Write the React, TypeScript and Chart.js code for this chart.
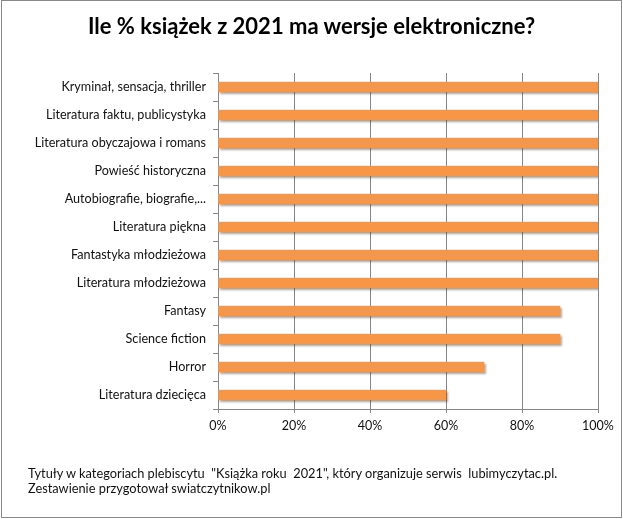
import React, { useEffect, useRef } from "react";
import { Chart, registerables } from "chart.js";

Chart.register(...registerables);

const categories = [
  "Kryminał, sensacja, thriller",
  "Literatura faktu, publicystyka",
  "Literatura obyczajowa i romans",
  "Powieść historyczna",
  "Autobiografie, biografie,...",
  "Literatura piękna",
  "Fantastyka młodzieżowa",
  "Literatura młodzieżowa",
  "Fantasy",
  "Science fiction",
  "Horror",
  "Literatura dziecięca",
];

const values = [100, 100, 100, 100, 100, 100, 100, 100, 90, 90, 70, 60];

const xTicks = [0, 20, 40, 60, 80, 100];

const titleText = "Ile % książek z 2021 ma wersje elektroniczne?";
const footLines = [
  "Tytuły w kategoriach plebiscytu  \"Książka roku  2021\", który organizuje serwis  lubimyczytac.pl.",
  "Zestawienie przygotował swiatczytnikow.pl",
];

const FONT = "Lato, 'Open Sans', sans-serif";

const shadowPlugin = {
  id: "barShadow",
  beforeDatasetDraw(chart: any) {
    const ctx = chart.ctx;
    ctx.save();
    ctx.shadowColor = "rgba(0,0,0,0.35)";
    ctx.shadowBlur = 2;
    ctx.shadowOffsetX = 2;
    ctx.shadowOffsetY = 2;
  },
  afterDatasetDraw(chart: any) {
    chart.ctx.restore();
  },
};

export default function App() {
  const ref = useRef<HTMLCanvasElement | null>(null);

  useEffect(() => {
    if (!ref.current) return;
    const chart = new Chart(ref.current, {
      type: "bar",
      data: {
        labels: categories,
        datasets: [
          {
            data: values,
            backgroundColor: "#F79646",
            borderWidth: 0,
            barThickness: 10,
          },
        ],
      },
      options: {
        indexAxis: "y",
        animation: false,
        responsive: false,
        maintainAspectRatio: false,
        layout: { padding: { top: 73, right: 25, bottom: 80, left: 0 } },
        plugins: {
          legend: { display: false },
          tooltip: { enabled: false },
          title: { display: false },
        },
        scales: {
          x: {
            min: 0,
            max: 100,
            afterBuildTicks: (scale: any) => {
              scale.ticks = xTicks.map((v) => ({ value: v }));
            },
            afterFit: (scale: any) => {
              scale.height = 30;
            },
            border: { display: true, color: "#868686", width: 1 },
            grid: {
              color: "#868686",
              lineWidth: 1,
              tickLength: 4,
              drawOnChartArea: true,
            },
            ticks: {
              color: "#111",
              font: { family: FONT, size: 12.5 },
              padding: 5,
              maxRotation: 0,
              callback: (v: any) => v + "%",
            },
          },
          y: {
            afterFit: (scale: any) => {
              scale.width = 218;
            },
            border: { display: true, color: "#868686", width: 1 },
            grid: {
              display: true,
              drawOnChartArea: false,
              color: "#868686",
              tickLength: 5,
              offset: true,
            },
            ticks: {
              color: "#111",
              font: { family: FONT, size: 12.6 },
              padding: 7,
            },
          },
        },
      },
      plugins: [shadowPlugin],
    } as any);
    return () => chart.destroy();
  }, []);

  return (
    <div
      style={{
        position: "fixed",
        left: 0,
        top: 0,
        width: 623,
        height: 519,
        background: "#fff",
        overflow: "hidden",
      }}
    >
      <canvas ref={ref} width={623} height={519} style={{ position: "absolute", left: 0, top: 0 }} />
      <div
        style={{
          position: "absolute",
          left: 0,
          top: 13,
          width: 623,
          textAlign: "center",
          fontFamily: FONT,
          fontWeight: 700,
          fontSize: 22,
          lineHeight: "26px",
          color: "#000",
        }}
      >
        {titleText}
      </div>
      <div
        style={{
          position: "absolute",
          left: 28,
          top: 466,
          fontFamily: FONT,
          fontSize: 12.8,
          lineHeight: "15px",
          color: "#111",
          whiteSpace: "pre",
        }}
      >
        {footLines.map((l, i) => (
          <div key={i}>{l}</div>
        ))}
      </div>
      <div
        style={{
          position: "absolute",
          left: 1,
          top: 0,
          width: 621,
          height: 518,
          boxSizing: "border-box",
          border: "1px solid #8a8a8a",
          pointerEvents: "none",
        }}
      />
    </div>
  );
}
